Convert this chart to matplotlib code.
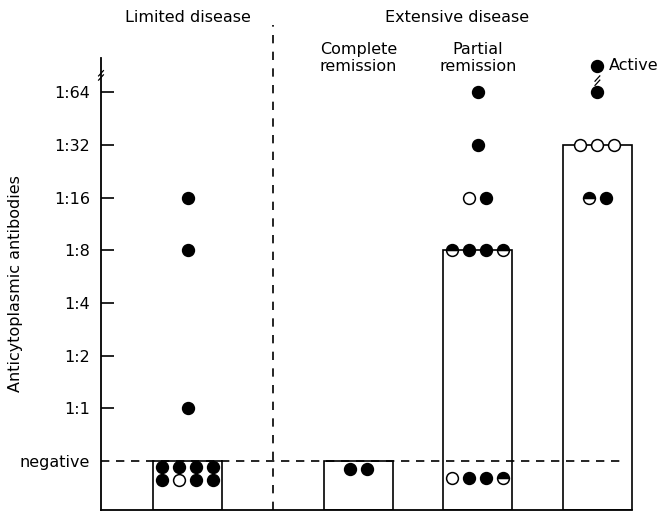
import matplotlib
matplotlib.use("Agg")
import matplotlib.pyplot as plt

# titre levels: index 0 = negative, 1 = 1:1 ... 7 = 1:64
tick_labels = ["negative", "1:1", "1:2", "1:4", "1:8", "1:16", "1:32", "1:64"]
group_names = ["Limited disease", "Complete\nremission", "Partial\nremission", "Active"]
bar_tops = [0, 0, 4, 6]

# rows of dots: (level, kinds)  F = filled, O = open, H = half filled
limited_dots = [(5, "F"), (4, "F"), (1, "F"), (-0.12, "FFFF"), (-0.37, "FOFF")]
complete_dots = [(-0.15, "FF")]
partial_dots = [(7, "F"), (6, "F"), (5, "OF"), (4, "HFFH"), (-0.32, "OFFH")]
active_dots = [(7.5, "F"), (7, "F"), (6, "OOO"), (5, "HF")]
all_dots = [limited_dots, complete_dots, partial_dots, active_dots]

group_x = [0, 1.43, 2.43, 3.43]
bar_w = 0.577
dot_step = 0.142
ymin, ymax = -0.93, 7.65

plt.rcParams['font.family'] = ['DejaVu Sans']
fig = plt.figure(figsize=(6.6, 5.13), dpi=100)
ax = fig.add_axes([101 / 660, 3 / 513, 554 / 660, 452 / 513])
ax.set_xlim(-0.724, 3.912)
ax.set_ylim(ymin, ymax)

for gx, top in zip(group_x, bar_tops):
    ax.bar(gx, top - ymin, bottom=ymin, width=bar_w, facecolor="white",
           edgecolor="black", linewidth=1.2, zorder=2)

# negative line (drawn over the bars, as in the original)
ax.plot([-0.724, 3.64], [0, 0], color="black", lw=1.2, ls=(0, (5, 4)), zorder=3)
# separation limited / extensive
ax.plot([0.715, 0.715], [ymin, 8.27], color="black", lw=1.2, ls=(0, (5, 5)),
        clip_on=False, zorder=1)

styles = {
    "F": dict(marker="o", color="black", markerfacecolor="black"),
    "O": dict(marker="o", color="black", markerfacecolor="white"),
    "H": dict(marker="o", color="black", markerfacecolor="black",
              fillstyle="top", markerfacecoloralt="white"),
}
for gx, rows in zip(group_x, all_dots):
    for level, kinds in rows:
        n = len(kinds)
        for i, k in enumerate(kinds):
            x = gx + (i - (n - 1) / 2) * dot_step
            ax.plot(x, level, linestyle="none", markersize=8.5, markeredgewidth=1.1,
                    clip_on=False, zorder=4, **styles[k])

# axis styling
for s in ["top", "right"]:
    ax.spines[s].set_visible(False)
ax.spines["left"].set_linewidth(1.3)
ax.spines["bottom"].set_linewidth(1.3)
ax.spines["bottom"].set_bounds(-0.724, group_x[-1] + bar_w / 2)
ax.set_xticks([])
ax.set_yticks(range(len(tick_labels)))
ax.set_yticklabels(tick_labels)
ax.tick_params(axis="y", direction="in", length=9, width=1.2, labelsize=11.5, pad=8)
ax.yaxis.get_major_ticks()[0].tick1line.set_visible(False)
ax.set_ylabel("Anticytoplasmic antibodies", fontsize=11.5)
ax.yaxis.set_label_coords(-0.14, 0.5)

# axis break marks
for yb, xb in [(7.32, -0.724), (7.22, group_x[3])]:
    for dy in (-0.04, 0.04):
        ax.plot([xb - 0.02, xb + 0.02], [yb + dy - 0.05, yb + dy + 0.05],
                color="black", lw=0.9, clip_on=False, zorder=5)

# headings
ax.text(group_x[0], 8.41, group_names[0], ha="center", va="center", fontsize=11.5)
ax.text(2.255, 8.41, "Extensive disease", ha="center", va="center", fontsize=11.5)
ax.text(group_x[1], 7.65, group_names[1], ha="center", va="center", fontsize=11.5,
        linespacing=1.1)
ax.text(group_x[2], 7.65, group_names[2], ha="center", va="center", fontsize=11.5,
        linespacing=1.1)
ax.text(group_x[3] + 0.1, 7.5, group_names[3], ha="left", va="center", fontsize=11.5)

fig.savefig("out.png", dpi=100)
